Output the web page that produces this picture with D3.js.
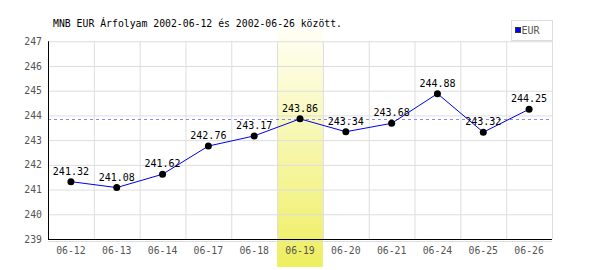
<!DOCTYPE html>
<html><head><meta charset="utf-8">
<script src="https://cdn.jsdelivr.net/npm/d3@7"></script>
<style>body{margin:0;background:#fff}svg{display:block}</style>
</head><body>
<svg id="c" width="600" height="270"></svg>
<script>
const categories = ["06-12","06-13","06-14","06-17","06-18","06-19","06-20","06-21","06-24","06-25","06-26"];
const eurValues = [241.32,241.08,241.62,242.76,243.17,243.86,243.34,243.68,244.88,243.32,244.25];
const yTicks = [239,240,241,242,243,244,245,246,247];
const highlightCategory = "06-19";
const referenceValue = 243.86;
const titleText = "MNB EUR Árfolyam 2002-06-12 és 2002-06-26 között.";
const seriesName = "EUR";

const svg = d3.select("#c");
const mono = "'DejaVu Sans Mono', monospace";
const x = d3.scaleBand().domain(categories).range([48, 552]).padding(0);
const y = d3.scaleLinear().domain([239, 247]).range([239, 41.25]);

const defs = svg.append("defs");
const grad = defs.append("linearGradient").attr("id","hl").attr("x1",0).attr("y1",0).attr("x2",0).attr("y2",1);
grad.append("stop").attr("offset","0%").attr("stop-color","#fffff6");
grad.append("stop").attr("offset","100%").attr("stop-color","#eeee60");

// highlight band
svg.append("rect").attr("x", x(highlightCategory)).attr("y", 28)
  .attr("width", x.bandwidth()).attr("height", 239).attr("fill","url(#hl)");

// grid
const g = svg.append("g");
g.selectAll("line.h").data(yTicks.slice(1)).join("line")
  .attr("x1",48).attr("x2",552).attr("y1",d=>y(d)+0.5).attr("y2",d=>y(d)+0.5)
  .attr("stroke","#dddddd");
g.selectAll("line.v").data(categories.slice(1).concat(["end"])).join("line")
  .attr("x1",(d,i)=> (i < categories.length-1 ? x(d) : x.range()[1]) + 0.5)
  .attr("x2",(d,i)=> (i < categories.length-1 ? x(d) : x.range()[1]) + 0.5)
  .attr("y1",y(247)).attr("y2",y(239)).attr("stroke","#dddddd");
// shadow under x axis
svg.append("line").attr("x1",48).attr("x2",552).attr("y1",241.5).attr("y2",241.5).attr("stroke","#dddddd");

// reference dashed line
svg.append("line").attr("x1",48).attr("x2",552)
  .attr("y1",Math.round(y(referenceValue))+0.5).attr("y2",Math.round(y(referenceValue))+0.5)
  .attr("stroke","#8888ee").attr("stroke-dasharray","3,3");

// axes lines
svg.append("line").attr("x1",48.5).attr("x2",48.5).attr("y1",y(247)).attr("y2",y(239)+0.5).attr("stroke","#000");
svg.append("line").attr("x1",48).attr("x2",552).attr("y1",239.5).attr("y2",239.5).attr("stroke","#000");

// y labels
const yAxis = d3.axisLeft(y).tickValues(yTicks).tickSize(0).tickPadding(6).tickFormat(d3.format("d"));
const ya = svg.append("g").attr("transform","translate(48,0)").call(yAxis);
ya.select(".domain").remove();
ya.selectAll("text").attr("font-family",mono).attr("font-size","9.8px").attr("fill","#555");

// x labels
const xAxis = d3.axisBottom(x).tickSize(0).tickPadding(8);
const xa = svg.append("g").attr("transform","translate(0,239)").call(xAxis);
xa.select(".domain").remove();
xa.selectAll("text").attr("font-family",mono).attr("font-size","9.8px").attr("fill","#555");

// line
const data = categories.map((c,i)=>({c, v: eurValues[i]}));
svg.append("path").datum(data)
  .attr("d", d3.line().x(d=>x(d.c)+x.bandwidth()/2).y(d=>y(d.v)))
  .attr("fill","none").attr("stroke","#0000ee").attr("stroke-width",1);
svg.selectAll("circle.pt").data(data).join("circle")
  .attr("cx",d=>x(d.c)+x.bandwidth()/2).attr("cy",d=>y(d.v)).attr("r",3.5).attr("fill","#000");
svg.selectAll("text.lbl").data(data).join("text")
  .attr("x",d=>x(d.c)+x.bandwidth()/2).attr("y",d=>y(d.v)-7)
  .attr("text-anchor","middle").attr("font-family",mono).attr("font-size","10px").attr("fill","#000")
  .text(d=>d.v.toFixed(2));

// title
svg.append("text").attr("x",53).attr("y",27).attr("font-family",mono).attr("font-size","9.8px")
  .attr("fill","#000").text(titleText);

// legend
svg.append("rect").attr("x",511.5).attr("y",20.5).attr("width",41).attr("height",20)
  .attr("fill","#fff").attr("stroke","#dddddd");
svg.append("rect").attr("x",515.5).attr("y",27.5).attr("width",5).attr("height",5)
  .attr("fill","#0000ff").attr("stroke","#333");
svg.append("text").attr("x",521.5).attr("y",34).attr("font-family",mono)
  .attr("font-size","10px").attr("fill","#555").text(seriesName);
</script>
</body></html>
